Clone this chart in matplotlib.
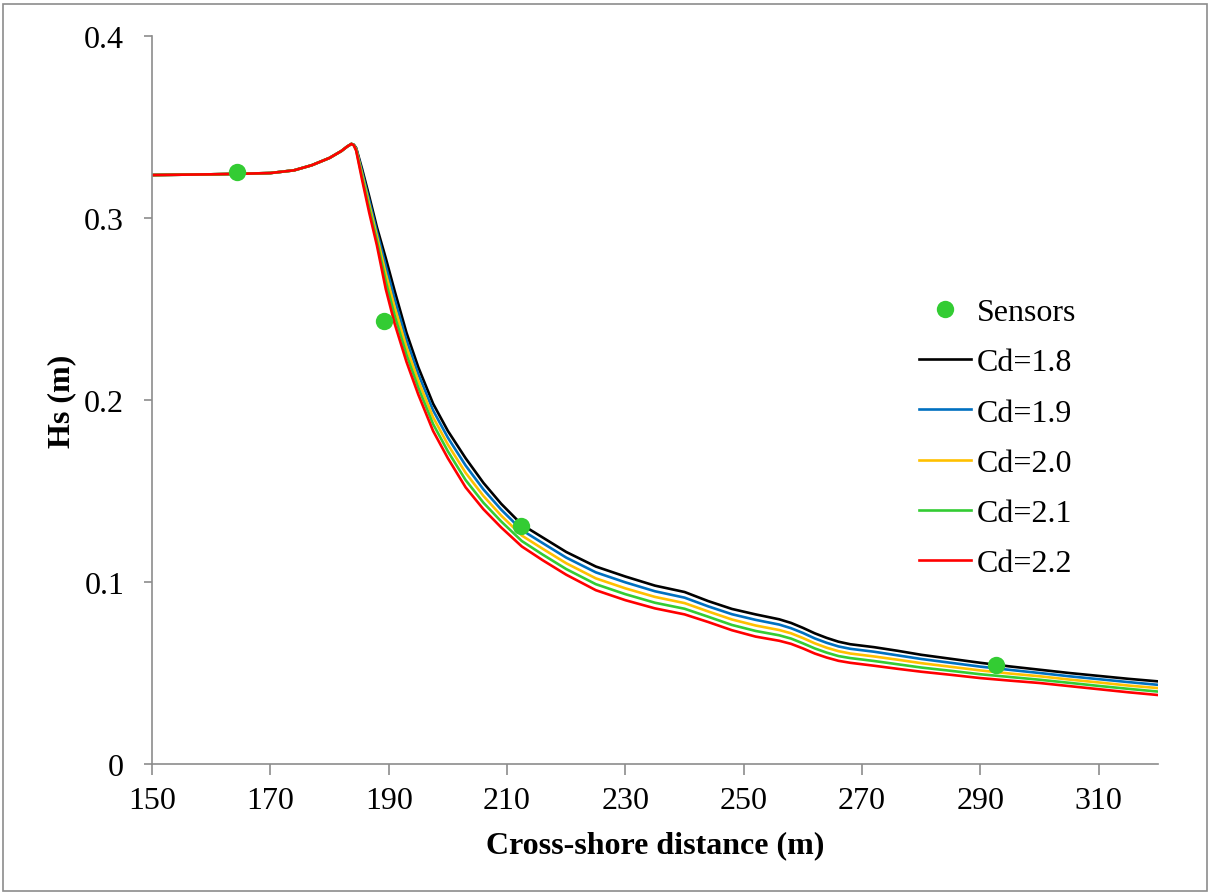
import matplotlib
matplotlib.use("Agg")
import matplotlib.pyplot as plt
from matplotlib.patches import Rectangle

# cross-shore positions (m)
x = [150, 160, 165, 170, 174, 177, 180, 182, 183, 183.7, 184.1, 184.5, 185.5, 186.7, 188,
     189.5, 191, 193, 195, 197.5, 200, 203, 206, 209, 212.5, 216, 220, 225, 230, 235,
     240, 244, 248, 252, 256, 258, 260, 262, 264, 266, 268, 272, 276, 280, 285, 290,
     295, 300, 305, 310, 315, 320]

# offshore part, shared by every run
shared = [0.3236, 0.3240, 0.3243, 0.3247, 0.3262, 0.3290, 0.3330, 0.3368, 0.3393, 0.3407]

hs_18 = shared + [0.3403, 0.3385, 0.3270, 0.3120, 0.2950, 0.2780, 0.2600, 0.2370, 0.2180,
                  0.1980, 0.1830, 0.1680, 0.1545, 0.1430, 0.1315, 0.1245, 0.1165, 0.1085,
                  0.1030, 0.0980, 0.0945, 0.0895, 0.0852, 0.0822, 0.0795, 0.0775, 0.0748,
                  0.0718, 0.0693, 0.0672, 0.0658, 0.0642, 0.0622, 0.0600, 0.0578, 0.0556,
                  0.0536, 0.0518, 0.0500, 0.0484, 0.0468, 0.0454]
hs_19 = shared + [0.3402, 0.3381, 0.3255, 0.3098, 0.2925, 0.2738, 0.2555, 0.2330, 0.2143,
                  0.1943, 0.1793, 0.1640, 0.1509, 0.1398, 0.1285, 0.1214, 0.1134, 0.1053,
                  0.0998, 0.0949, 0.0914, 0.0866, 0.0823, 0.0792, 0.0766, 0.0746, 0.0720,
                  0.0690, 0.0666, 0.0646, 0.0633, 0.0617, 0.0597, 0.0577, 0.0556, 0.0535,
                  0.0517, 0.0500, 0.0482, 0.0466, 0.0450, 0.0435]
hs_20 = shared + [0.3401, 0.3378, 0.3240, 0.3075, 0.2900, 0.2695, 0.2510, 0.2290, 0.2105,
                  0.1905, 0.1755, 0.1600, 0.1473, 0.1365, 0.1255, 0.1183, 0.1103, 0.1020,
                  0.0965, 0.0918, 0.0884, 0.0838, 0.0794, 0.0761, 0.0736, 0.0718, 0.0692,
                  0.0663, 0.0639, 0.0620, 0.0607, 0.0591, 0.0573, 0.0554, 0.0534, 0.0514,
                  0.0497, 0.0482, 0.0464, 0.0448, 0.0431, 0.0417]
hs_21 = shared + [0.3400, 0.3374, 0.3225, 0.3053, 0.2875, 0.2653, 0.2465, 0.2250, 0.2068,
                  0.1868, 0.1718, 0.1560, 0.1436, 0.1333, 0.1225, 0.1151, 0.1071, 0.0988,
                  0.0933, 0.0886, 0.0853, 0.0809, 0.0764, 0.0731, 0.0707, 0.0689, 0.0663,
                  0.0635, 0.0612, 0.0593, 0.0582, 0.0566, 0.0548, 0.0530, 0.0512, 0.0493,
                  0.0478, 0.0463, 0.0446, 0.0429, 0.0413, 0.0398]
hs_22 = shared + [0.3399, 0.3370, 0.3210, 0.3030, 0.2850, 0.2610, 0.2420, 0.2210, 0.2030,
                  0.1830, 0.1680, 0.1520, 0.1400, 0.1300, 0.1195, 0.1120, 0.1040, 0.0955,
                  0.0900, 0.0855, 0.0822, 0.0780, 0.0735, 0.0700, 0.0677, 0.0660, 0.0635,
                  0.0607, 0.0585, 0.0567, 0.0556, 0.0540, 0.0523, 0.0507, 0.0490, 0.0472,
                  0.0458, 0.0445, 0.0428, 0.0411, 0.0394, 0.0379]

sensor_x = [164.4, 189.2, 212.4, 292.6]
sensor_hs = [0.3253, 0.2434, 0.1308, 0.0544]

runs = [("Cd=1.8", hs_18, "black"),
        ("Cd=1.9", hs_19, "#0070C0"),
        ("Cd=2.0", hs_20, "#FFC000"),
        ("Cd=2.1", hs_21, "#33CC33"),
        ("Cd=2.2", hs_22, "#FF0000")]

plt.rcParams['font.family'] = ['Liberation Serif', 'DejaVu Serif']
plt.rcParams['font.size'] = 23

fig = plt.figure(figsize=(12.1, 8.95), dpi=100)
ax = fig.add_axes([152 / 1210, 1 - 765 / 895, (1158 - 152) / 1210, (765 - 37) / 895])

ax.plot(sensor_x, sensor_hs, "o", color="#33CC33", markersize=12.5,
        markeredgewidth=0, label="Sensors", zorder=3)
for name, hs, col in runs:
    ax.plot(x, hs, color=col, lw=1.9, label=name, zorder=2)

ax.set_xlim(150, 320)
ax.set_ylim(0, 0.4)
ax.set_xticks(range(150, 311, 20))
ax.set_yticks([0, 0.1, 0.2, 0.3, 0.4])
ax.set_yticklabels(["0", "0.1", "0.2", "0.3", "0.4"])

for side in ("top", "right"):
    ax.spines[side].set_visible(False)
for side in ("left", "bottom"):
    ax.spines[side].set_color("#8c8c8c")
    ax.spines[side].set_linewidth(1.2)
ax.tick_params(axis="x", direction="out", length=8, width=1.2, color="#8c8c8c", pad=8)
ax.tick_params(axis="y", direction="out", length=6, width=1.2, color="#8c8c8c", pad=14)

ax.set_xlabel("Cross-shore distance (m)", fontweight="bold", labelpad=11)
ax.set_ylabel("Hs (m)", fontweight="bold", labelpad=6)

leg = ax.legend(loc="upper left", bbox_to_anchor=(919 / 1210, 1 - 299 / 895),
                bbox_transform=fig.transFigure, frameon=False,
                handlelength=1.63, handletextpad=0.17, labelspacing=0.65,
                borderpad=0, borderaxespad=0)

fig.patches.append(Rectangle((3 / 1210, 3 / 895), 1204 / 1210, 887 / 895,
                             transform=fig.transFigure, fill=False,
                             edgecolor="#8c8c8c", lw=1.2))

fig.savefig("out.png", dpi=100)
